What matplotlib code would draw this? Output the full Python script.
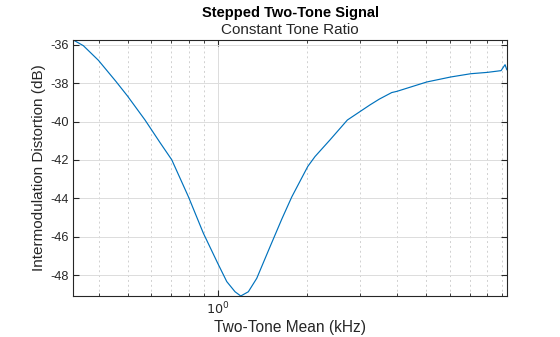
import matplotlib
matplotlib.use("Agg")
import matplotlib.pyplot as plt
from matplotlib.ticker import LogLocator, FixedLocator, NullFormatter, FuncFormatter

plt.rcParams['font.family'] = ['Liberation Sans', 'DejaVu Sans']
plt.rcParams['axes.unicode_minus'] = False

freq_khz = [0.3288, 0.3551, 0.3988, 0.4560, 0.4986, 0.5715, 0.6419, 0.7023, 0.7985,
            0.8961, 1.0015, 1.0735, 1.1444, 1.196, 1.268, 1.353, 1.4996, 1.641,
            1.773, 2.005, 2.121, 2.382, 2.722, 3.001, 3.243, 3.484, 3.833, 3.984,
            5.022, 6.041, 7.051, 8.014, 8.906, 9.186, 9.31]
imd_db = [-35.755, -36.05, -36.81, -37.90, -38.66, -39.92, -41.10, -41.99, -43.91,
          -45.81, -47.38, -48.33, -48.86, -49.08, -48.86, -48.16, -46.51, -45.08,
          -43.92, -42.34, -41.82, -40.95, -39.92, -39.48, -39.13, -38.83, -38.49, -38.43,
          -37.94, -37.68, -37.51, -37.44, -37.35, -37.04, -37.30]
y_ticks = [-48, -46, -44, -42, -40, -38, -36]

tc = '#262626'
fig = plt.figure(figsize=(5.6, 3.37), dpi=100)
ax = fig.add_axes([0.131, 0.1217, 0.774, 0.7596])
ax.plot(freq_khz, imd_db, color='#0072BD', lw=0.85, solid_joinstyle='round')
ax.set_xscale('log')
ax.set_xlim(min(freq_khz), max(freq_khz))
ax.set_ylim(min(imd_db), max(imd_db))
ax.xaxis.set_major_locator(FixedLocator([1.0]))
ax.xaxis.set_major_formatter(FuncFormatter(lambda v, p: r'$10^{0}$'))
ax.xaxis.set_minor_locator(LogLocator(base=10, subs=range(2, 10)))
ax.xaxis.set_minor_formatter(NullFormatter())
ax.set_yticks(y_ticks)

ax.grid(True, which='major', color='#dcdcdc', lw=0.7, ls='-')
ax.grid(True, which='minor', axis='x', color='#d0d0d0', lw=0.7, ls=(0, (2, 3)))
ax.set_axisbelow(True)
for s in ax.spines.values():
    s.set_color(tc)
    s.set_linewidth(0.8)
ax.tick_params(which='both', direction='in', top=True, right=True, colors=tc,
               labelsize=9.2)
ax.tick_params(which='major', length=4)
ax.tick_params(which='minor', length=2.5)

ax.set_xlabel('Two-Tone Mean (kHz)', fontsize=11.2, color=tc, labelpad=2)
ax.set_ylabel('Intermodulation Distortion (dB)', fontsize=11, color=tc, labelpad=3)
fig.text(0.518, 0.962, 'Stepped Two-Tone Signal', ha='center', va='center',
         fontsize=10.5, fontweight='bold', color='black')
fig.text(0.518, 0.912, 'Constant Tone Ratio', ha='center', va='center',
         fontsize=11, color=tc)

fig.savefig('out.png', dpi=100)
